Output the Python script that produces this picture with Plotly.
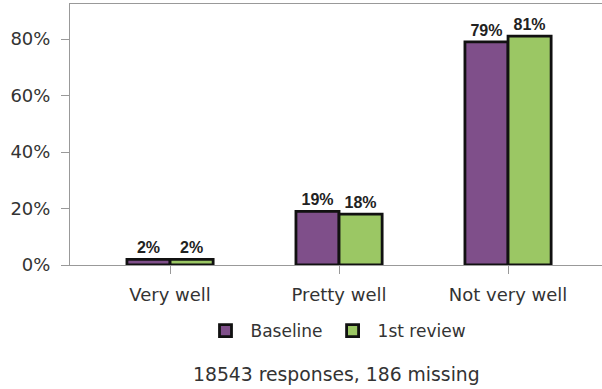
import plotly.graph_objects as go

categories = ["Very well", "Pretty well", "Not very well"]
baseline = [2, 19, 79]
first_review = [2, 18, 81]
series_names = ["Baseline", "1st review"]
y_ticks = [0, 20, 40, 60, 80]
y_tick_labels = ["0%", "20%", "40%", "60%", "80%"]
caption = "18543 responses, 186 missing"

colors = ["#7f4f8a", "#9bc764"]
FONT = "DejaVu Sans"

fig = go.Figure()
for name, vals, col in zip(series_names, [baseline, first_review], colors):
    fig.add_trace(go.Bar(
        x=categories, y=vals, name=name,
        marker=dict(color=col, line=dict(color="#111111", width=2.8)),
        text=[f"{v}%" for v in vals], textposition="outside",
        textfont=dict(family="Liberation Sans", size=16, color="#222222", weight="bold"),
        cliponaxis=False, hoverinfo="skip",
    ))

fig.update_layout(
    width=602, height=389,
    margin=dict(l=70, r=0, t=4, b=124, autoexpand=False),
    plot_bgcolor="white", paper_bgcolor="white",
    barmode="group", bargap=0.49, bargroupgap=0,
    font=dict(family=FONT, size=18, color="#333333"),
    showlegend=True,
    legend=dict(orientation="h", x=0.5, xanchor="center", y=-0.253, yanchor="middle",
                font=dict(family=FONT, size=17, color="#333333"), itemwidth=40),
    xaxis=dict(range=[-0.592, 2.556], showline=True, linecolor="#999999", linewidth=1,
               ticks="outside", ticklen=8, tickcolor="#999999", mirror=True,
               ticklabelstandoff=5,
               tickfont=dict(family=FONT, size=18, color="#333333")),
    yaxis=dict(range=[0, 92.4], tickvals=y_ticks, ticktext=y_tick_labels,
               showgrid=False, zeroline=False, showline=True, linecolor="#999999",
               linewidth=1, ticks="outside", ticklen=8, tickcolor="#999999",
               mirror=True, ticklabelstandoff=7,
               tickfont=dict(family=FONT, size=18, color="#333333")),
)
fig.add_annotation(text=caption, xref="paper", yref="paper", x=0.5, y=-0.42,
                   xanchor="center", yanchor="middle", showarrow=False,
                   font=dict(family=FONT, size=18.8, color="#333333"))
fig.write_html("out.html", config={"displayModeBar": False},
               post_script="document.body.style.margin='0';")
